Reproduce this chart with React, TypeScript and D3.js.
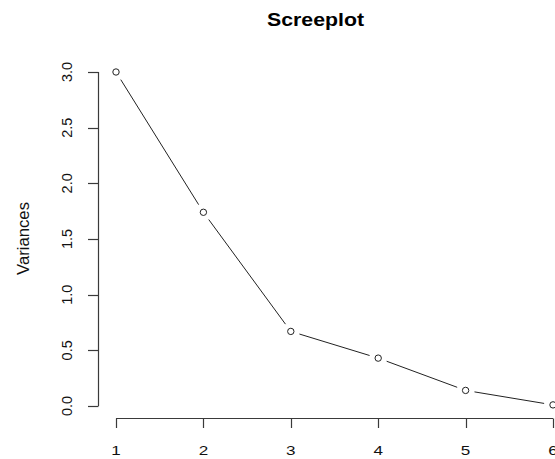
import React from 'react';
import * as d3 from 'd3';

// component number and its variance
const components = [1, 2, 3, 4, 5, 6];
const variances = [3.0, 1.74, 0.67, 0.43, 0.14, 0.01];
const yTicks = [0, 0.5, 1, 1.5, 2, 2.5, 3];
const xTicks = [1, 2, 3, 4, 5, 6];

const width = 555;
const height = 459;
const font = 'Liberation Sans, Arial, sans-serif';

const App: React.FC = () => {
  const x = d3.scaleLinear().domain([1, 6]).range([116, 553]);
  const y = d3.scaleLinear().domain([0, 3]).range([406, 72]);

  const pts = components.map((c, i) => [x(c), y(variances[i])] as [number, number]);

  // type="b" style: segments stop short of the points
  const gap = 9;
  const segments = d3.pairs(pts).map(([a, b]) => {
    const dx = b[0] - a[0];
    const dy = b[1] - a[1];
    const len = Math.sqrt(dx * dx + dy * dy);
    const ux = dx / len;
    const uy = dy / len;
    return {
      x1: a[0] + ux * gap,
      y1: a[1] + uy * gap,
      x2: b[0] - ux * gap,
      y2: b[1] - uy * gap,
    };
  });

  const axisColor = '#3a3a3a';
  const yAxisX = 98.5;
  const xAxisY = 418.5;

  return (
    <svg
      width={width}
      height={height}
      style={{ position: 'absolute', left: 0, top: 0, background: '#fff' }}
    >
      {/* title */}
      <text
        x={315.5}
        y={25.5}
        textAnchor="middle"
        fontFamily={font}
        fontWeight="bold"
        fontSize={18}
        textLength={97}
        lengthAdjust="spacingAndGlyphs"
        fill="#000"
      >
        Screeplot
      </text>

      {/* y axis */}
      <line x1={yAxisX} x2={yAxisX} y1={y(0)} y2={y(3)} stroke={axisColor} strokeWidth={1.2} />
      {yTicks.map(t => (
        <g key={t}>
          <line x1={88} x2={yAxisX} y1={Math.round(y(t)) + 0.5} y2={Math.round(y(t)) + 0.5} stroke={axisColor} strokeWidth={1.2} />
          <text
            transform={`translate(71.5,${y(t)}) rotate(-90)`}
            textAnchor="middle"
            fontFamily={font}
            fontSize={14.5}
            fill="#111"
          >
            {d3.format('.1f')(t)}
          </text>
        </g>
      ))}
      <text
        transform={`translate(29,238.5) rotate(-90)`}
        textAnchor="middle"
        fontFamily={font}
        fontSize={16}
        textLength={73}
        lengthAdjust="spacingAndGlyphs"
        fill="#111"
      >
        Variances
      </text>

      {/* x axis */}
      <line x1={x(1)} x2={x(6)} y1={xAxisY} y2={xAxisY} stroke={axisColor} strokeWidth={1.2} />
      {xTicks.map(t => (
        <g key={t}>
          <line x1={Math.round(x(t)) + 0.5} x2={Math.round(x(t)) + 0.5} y1={xAxisY} y2={428} stroke={axisColor} strokeWidth={1.2} />
          <text
            x={x(t)}
            y={455}
            textAnchor="middle"
            fontFamily={font}
            fontSize={13.5}
            textLength={9.5}
            lengthAdjust="spacingAndGlyphs"
            fill="#111"
          >
            {t}
          </text>
        </g>
      ))}

      {/* line with gaps */}
      {segments.map((s, i) => (
        <line key={i} x1={s.x1} y1={s.y1} x2={s.x2} y2={s.y2} stroke="#222" strokeWidth={1} />
      ))}

      {/* points */}
      {pts.map((p, i) => (
        <circle key={i} cx={p[0]} cy={p[1]} r={3.2} fill="none" stroke="#222" strokeWidth={1} />
      ))}
    </svg>
  );
};

export default App;
